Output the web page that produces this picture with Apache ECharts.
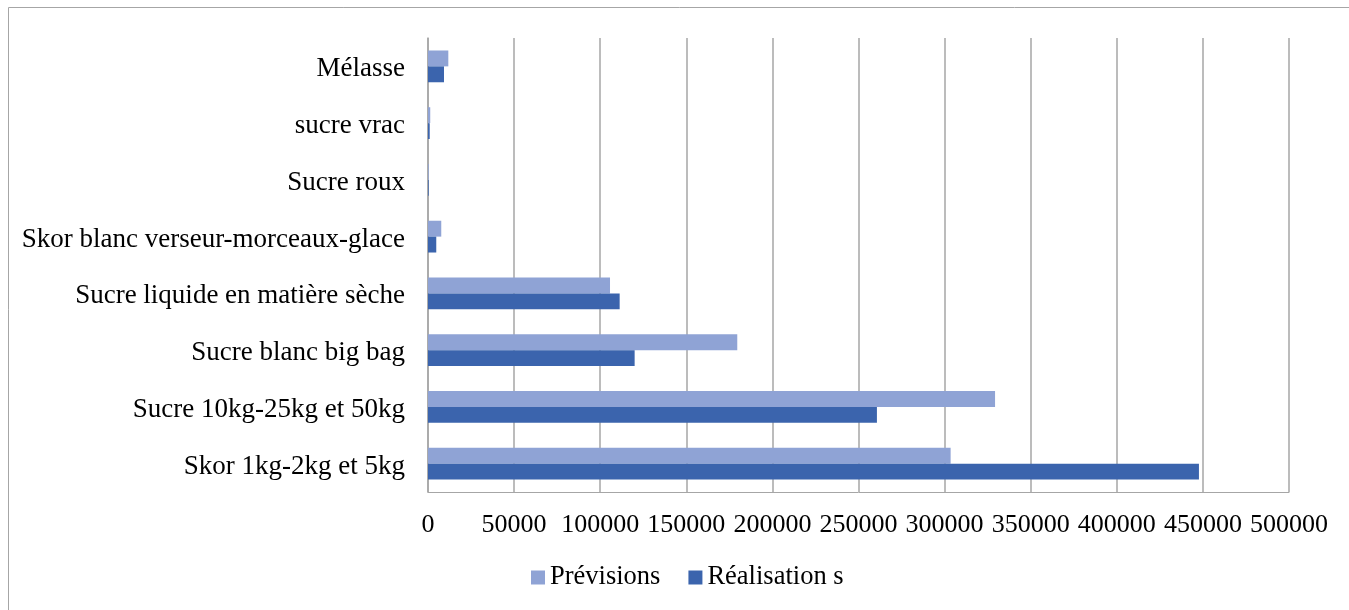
<!DOCTYPE html>
<html><head><meta charset="utf-8">
<script src="https://cdn.jsdelivr.net/npm/echarts@6/dist/echarts.min.js"></script>
<style>html,body{margin:0;padding:0;background:#fff}#c{width:1349px;height:610px}</style>
</head><body><div id="c"></div>
<script>
const categories = ["Skor 1kg-2kg et 5kg","Sucre 10kg-25kg et 50kg","Sucre blanc big bag","Sucre liquide en matière sèche","Skor blanc verseur-morceaux-glace","Sucre roux","sucre vrac","Mélasse"];
const previsions = [303500, 329300, 179600, 105700, 7700, 400, 1300, 11800];
const realisations = [447700, 260700, 120000, 111300, 4800, 400, 1000, 9300];
const seriesNames = ["Prévisions","Réalisation s"];
const font = "'Liberation Serif','Times New Roman',serif";
const chart = echarts.init(document.getElementById('c'));
chart.setOption({
  animation:false,
  graphic:[{type:'rect',shape:{x:8.5,y:7.5,width:1400,height:700},style:{fill:'none',stroke:'#a6a6a6',lineWidth:1},silent:true}],
  grid:{left:428,right:60,top:38,bottom:118},
  legend:{data:seriesNames,bottom:14,left:526,itemWidth:14,itemHeight:14,itemGap:28,icon:'rect',
    textStyle:{fontFamily:font,fontSize:26.5,color:'#000'}},
  xAxis:{type:'value',min:0,max:500000,interval:50000,
    axisLine:{show:true,lineStyle:{color:'#a6a6a6',width:1}},axisTick:{show:false},
    splitLine:{show:true,lineStyle:{color:'#a6a6a6',width:1.5}},
    axisLabel:{fontFamily:font,fontSize:26,color:'#000',margin:20,formatter:v=>String(v)}},
  yAxis:{type:'category',data:categories,
    axisLine:{show:true,lineStyle:{color:'#a6a6a6',width:1.5}},axisTick:{show:false},
    axisLabel:{margin:23,formatter:v=>'{s| }\n{a|'+v+'}',
      rich:{s:{fontSize:6,lineHeight:6,fontFamily:font},a:{fontFamily:font,fontSize:27,lineHeight:30,color:'#000'}}}},
  series:[
    {name:seriesNames[0],type:'bar',data:previsions,itemStyle:{color:'#8fa3d5'},barGap:'0%',barCategoryGap:'44%'},
    {name:seriesNames[1],type:'bar',data:realisations,itemStyle:{color:'#3b64ad'},barGap:'0%',barCategoryGap:'44%'}
  ]
});
</script></body></html>
